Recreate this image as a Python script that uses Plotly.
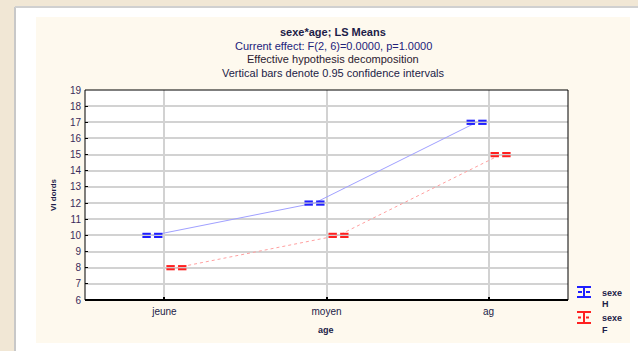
import plotly.graph_objects as go

# Least-squares means of the response by age group and sex
age_groups = ["jeune", "moyen", "ag"]
mean_h = [10.0, 12.0, 17.0]
mean_f = [8.0, 10.0, 15.0]
ci_half = [0.1, 0.1, 0.1]  # half-width of the 0.95 confidence interval
y_ticks = list(range(6, 20))

W, H = 638, 351
L, R, T, B = 85, 70, 90, 51
PW, PH = W - L - R, H - T - B


def px(x):
    return (x - L) / PW


def py(y):
    return (H - B - y) / PH


DODGE = 0.074   # horizontal offset between the two sexes
HALF = 0.036    # half-gap between the split cap segments

BLUE = "#1f1fff"
RED = "#ff2020"

fig = go.Figure()


def add_series(means, offset, color, line_color, dash, name):
    xs = [i + offset for i in range(len(means))]
    fig.add_trace(go.Scatter(
        x=xs, y=means, mode="lines",
        line=dict(color=line_color, width=1, dash=dash),
        showlegend=False, name=name, hoverinfo="skip"))
    cx, cy = [], []
    for x, m, h in zip(xs, means, ci_half):
        for yy in (m + h, m - h):
            for dx in (-HALF, HALF):
                cx.append(x + dx)
                cy.append(yy)
    fig.add_trace(go.Scatter(
        x=cx, y=cy, mode="markers",
        marker=dict(symbol="line-ew", size=6,
                    line=dict(color=color, width=2)),
        showlegend=False, name=name, hoverinfo="skip"))


add_series(mean_h, -DODGE, BLUE, "#a0a0ff", "solid", "H")
add_series(mean_f, DODGE, RED, "#ffa0a0", "dot", "F")

shapes = [
    # white sheet and light frame edge
    dict(type="rect", xref="paper", yref="paper", layer="below",
         x0=px(16), x1=px(640), y0=py(353), y1=py(8),
         fillcolor="#ffffff", line=dict(width=0)),
    dict(type="line", xref="paper", yref="paper", layer="below",
         x0=px(15), x1=px(15), y0=py(353), y1=py(7),
         line=dict(color="#c8c8c8", width=2)),
    dict(type="line", xref="paper", yref="paper", layer="below",
         x0=px(15), x1=px(640), y0=py(7), y1=py(7),
         line=dict(color="#d0d0d0", width=2)),
    # cream graph panel
    dict(type="rect", xref="paper", yref="paper", layer="below",
         x0=px(36), x1=px(630), y0=py(343), y1=py(17),
         fillcolor="#fef9ee", line=dict(width=0)),
    # white plotting area
    dict(type="rect", xref="paper", yref="paper", layer="below",
         x0=0, x1=1, y0=0, y1=1,
         fillcolor="#ffffff", line=dict(width=0)),
    # frame around the plotting area
    dict(type="rect", xref="paper", yref="paper", layer="above",
         x0=0, x1=1, y0=0, y1=1,
         line=dict(color="#000000", width=1)),
    dict(type="line", xref="paper", yref="paper", layer="above",
         x0=0, x1=1, y0=0, y1=0,
         line=dict(color="#000000", width=2)),
]


def legend_icon(x0, x1, ytop, ybot, color, dash):
    ym = (ytop + ybot) / 2
    xm = (x0 + x1) / 2
    w = 2
    return [
        dict(type="line", xref="paper", yref="paper", x0=px(x0), x1=px(x1),
             y0=py(ytop), y1=py(ytop), line=dict(color=color, width=w)),
        dict(type="line", xref="paper", yref="paper", x0=px(x0), x1=px(x1),
             y0=py(ybot), y1=py(ybot), line=dict(color=color, width=w)),
        dict(type="line", xref="paper", yref="paper", x0=px(xm), x1=px(xm),
             y0=py(ybot), y1=py(ytop), line=dict(color=color, width=w)),
        dict(type="line", xref="paper", yref="paper", x0=px(x0 + 1), x1=px(xm - 2),
             y0=py(ym), y1=py(ym), line=dict(color=color, width=w, dash=dash)),
        dict(type="line", xref="paper", yref="paper", x0=px(xm + 2), x1=px(x1 - 1),
             y0=py(ym), y1=py(ym), line=dict(color=color, width=w, dash=dash)),
    ]


shapes += legend_icon(577, 591, 287, 297, BLUE, "solid")
shapes += legend_icon(577, 591, 312, 323, RED, "dot")

TXT = "#1c1c48"
ann = []
title_lines = [
    ("<b>sexe*age; LS Means</b>", 32, TXT),
    ("Current effect: F(2, 6)=0.0000, p=1.0000", 45.5, "#22227a"),
    ("Effective hypothesis decomposition", 59, "#2a2030"),
    ("Vertical bars denote 0.95 confidence intervals", 73, TXT),
]
for text, y, c in title_lines:
    ann.append(dict(text=text, x=px(333), y=py(y), xref="paper", yref="paper",
                    xanchor="center", yanchor="middle", showarrow=False,
                    font=dict(size=11, color=c)))

for text, y in [("<b>sexe</b>", 293), ("<b>H</b>", 304),
                ("<b>sexe</b>", 318), ("<b>F</b>", 330)]:
    ann.append(dict(text=text, x=px(600), y=py(y), xref="paper", yref="paper",
                    xanchor="left", yanchor="middle", showarrow=False,
                    font=dict(size=9, color=TXT)))

ann.append(dict(text="<b>VI dords</b>", x=px(53), y=py(195), xref="paper",
                yref="paper", xanchor="center", yanchor="middle",
                textangle=-90, showarrow=False, font=dict(size=8, color=TXT)))
ann.append(dict(text="<b>age</b>", x=px(326), y=py(330), xref="paper",
                yref="paper", xanchor="center", yanchor="middle",
                showarrow=False, font=dict(size=9, color=TXT)))

fig.update_layout(
    width=W, height=H,
    margin=dict(l=L, r=R, t=T, b=B),
    paper_bgcolor="#f1e7d5",
    plot_bgcolor="#ffffff",
    font=dict(family="Liberation Sans, Arial, sans-serif", color=TXT),
    shapes=shapes,
    annotations=ann,
    showlegend=False,
    xaxis=dict(
        range=[-0.49, 2.49], tickmode="array",
        tickvals=list(range(len(age_groups))), ticktext=age_groups,
        showgrid=True, gridcolor="#d2d2d2", gridwidth=2,
        zeroline=False, showline=False,
        ticks="inside", ticklen=3, tickwidth=2, tickcolor="#000000",
        tickfont=dict(size=10, color=TXT), ticklabelstandoff=4,
    ),
    yaxis=dict(
        range=[6, 19], tickmode="array", tickvals=y_ticks,
        showgrid=True, gridcolor="#d2d2d2", gridwidth=2,
        zeroline=False, showline=False,
        ticks="inside", ticklen=3, tickwidth=1, tickcolor="#000000",
        tickfont=dict(size=10, color="#3a2a5a"), ticklabelstandoff=3,
    ),
)

fig.write_html("out.html")
